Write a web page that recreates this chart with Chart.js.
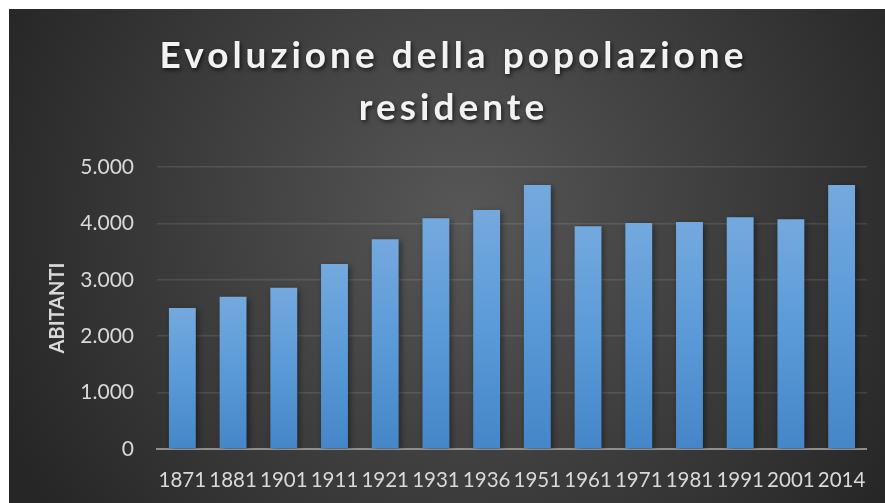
<!DOCTYPE html>
<html><head><meta charset="utf-8">
<script src="https://cdn.jsdelivr.net/npm/chart.js@4.4.1/dist/chart.umd.min.js"></script>
<style>
html,body{margin:0;padding:0;background:#fff;width:885px;height:503px;overflow:hidden}
#wrap{position:absolute;left:9px;top:9px;width:876px;height:494px}
</style></head><body>
<div id="wrap"><canvas id="c" width="876" height="494"></canvas></div>
<script>
const categories = ['1871','1881','1901','1911','1921','1931','1936','1951','1961','1971','1981','1991','2001','2014'];
const abitanti = [2500,2700,2860,3280,3720,4090,4235,4680,3950,4005,4025,4110,4075,4680];
const yTicks = [0,1000,2000,3000,4000,5000];
const titleLines = ['Evoluzione della popolazione','residente'];
const yTitle = 'ABITANTI';

const fmt = v => String(v).replace(/\B(?=(\d{3})+(?!\d))/g, '.');

const bgPlugin = {
  id: 'bg',
  beforeDraw(chart) {
    const ctx = chart.ctx, w = chart.width, h = chart.height;
    ctx.save();
    const g = ctx.createRadialGradient(w*0.52, h*0.42, 0, w*0.52, h*0.42, w*0.58);
    g.addColorStop(0, '#575757');
    g.addColorStop(1, '#262626');
    ctx.fillStyle = g;
    ctx.fillRect(0, 0, w, h);
    ctx.restore();
    const tb = chart.titleBlock;
    if (tb && !tb._wrapped) {
      const orig = tb.draw;
      tb.draw = function() {
        const c = this.ctx;
        c.save();
        c.translate(15, 0);
        c.letterSpacing = '4px';
        c.shadowColor = 'rgba(0,0,0,0.65)';
        c.shadowBlur = 4;
        c.shadowOffsetX = 1.5;
        c.shadowOffsetY = 2.5;
        orig.apply(this, arguments);
        c.restore();
      };
      tb._wrapped = true;
    }
  },
  beforeDatasetsDraw(chart) {
    const ctx = chart.ctx;
    ctx.save();
    ctx.shadowColor = 'rgba(0,0,0,0.45)';
    ctx.shadowBlur = 6;
    ctx.shadowOffsetX = 2;
    ctx.shadowOffsetY = 2;
  },
  afterDatasetsDraw(chart) {
    chart.ctx.restore();
  }
};

function barGradient(c) {
  const chart = c.chart;
  const ys = chart.scales && chart.scales.y;
  if (!chart.chartArea || !ys || c.dataIndex === undefined) return '#5b9bd5';
  const top = ys.getPixelForValue(c.raw);
  const base = ys.getPixelForValue(0);
  if (!isFinite(top) || !isFinite(base) || top === base) return '#5b9bd5';
  const g = chart.ctx.createLinearGradient(0, top, 0, base);
  g.addColorStop(0, '#74a9de');
  g.addColorStop(0.5, '#5a9ad8');
  g.addColorStop(1, '#4586c8');
  return g;
}

new Chart(document.getElementById('c'), {
  type: 'bar',
  data: {
    labels: categories,
    datasets: [{
      data: abitanti,
      backgroundColor: barGradient,
      borderWidth: 0,
      barPercentage: 0.53,
      categoryPercentage: 1
    }]
  },
  options: {
    responsive: false,
    animation: false,
    layout: { padding: { left: 0, right: 17, top: 0, bottom: 0 } },
    plugins: {
      legend: { display: false },
      tooltip: { enabled: false },
      title: {
        display: true,
        text: titleLines,
        color: '#f2f2f2',
        font: { family: 'Lato', size: 37, weight: 'bold', lineHeight: 1.405 },
        padding: { top: 21, bottom: 33 }
      }
    },
    scales: {
      x: {
        grid: { display: false, drawTicks: false },
        border: { display: true, color: '#8f8f8f', width: 2 },
        ticks: { color: '#d9d9d9', font: { family: 'Lato', size: 20.5 }, padding: 19, maxRotation: 0, autoSkip: false },
        afterFit(s) { s.height = 54; }
      },
      y: {
        min: 0, max: 5000,
        afterBuildTicks(s) { s.ticks = yTicks.map(v => ({ value: v })); },
        grid: {
          drawTicks: false,
          color: c => c.tick && c.tick.value === 0 ? 'rgba(0,0,0,0)' : 'rgba(255,255,255,0.11)',
          lineWidth: 1.6
        },
        border: { display: false },
        ticks: { color: '#d9d9d9', font: { family: 'Lato', size: 21 }, padding: 23, callback: v => fmt(v) },
        title: {
          display: true, text: yTitle, color: '#d9d9d9',
          font: { family: 'Lato', size: 20, weight: 'bold' },
          padding: { top: 37, bottom: 0 }
        },
        afterFit(s) { s.width = 148; }
      }
    }
  },
  plugins: [bgPlugin]
});
</script>
</body></html>
